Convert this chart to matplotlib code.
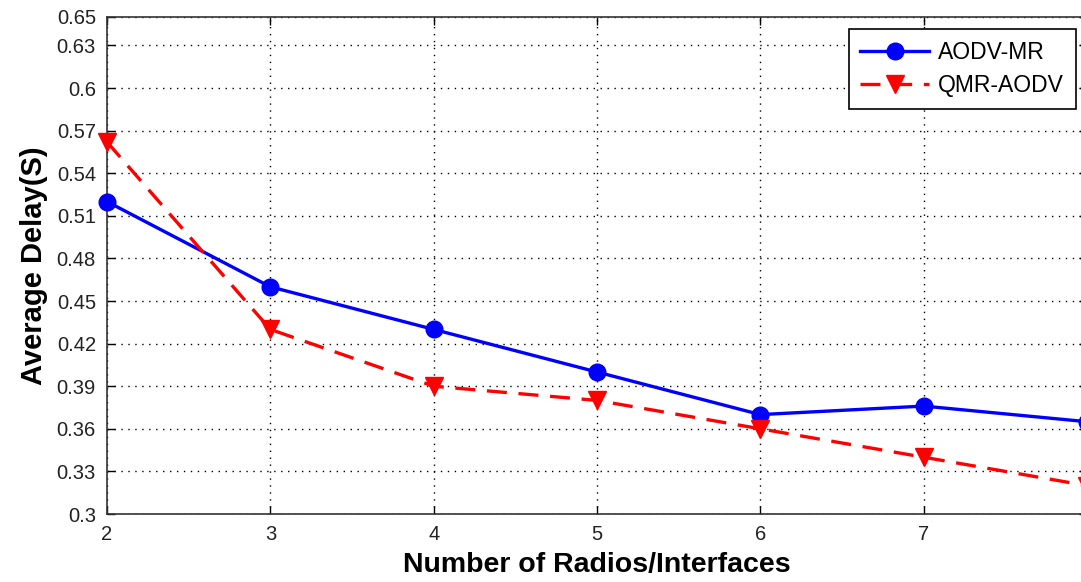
import matplotlib
matplotlib.use("Agg")
import matplotlib.pyplot as plt

radios = [2, 3, 4, 5, 6, 7, 8]
aodv_mr = [0.520, 0.460, 0.430, 0.400, 0.370, 0.376, 0.365]
qmr_aodv = [0.562, 0.430, 0.390, 0.380, 0.360, 0.340, 0.320]
yticks = [0.3, 0.33, 0.36, 0.39, 0.42, 0.45, 0.48, 0.51, 0.54, 0.57, 0.6, 0.63, 0.65]
ytick_labels = ["0.3", "0.33", "0.36", "0.39", "0.42", "0.45", "0.48", "0.51", "0.54", "0.57", "0.6", "0.63", "0.65"]
xticks = [2, 3, 4, 5, 6, 7, 8]
xtick_labels = ["2", "3", "4", "5", "6", "7", ""]

plt.rcParams['font.family'] = ['Liberation Sans', 'DejaVu Sans']

fig = plt.figure(figsize=(10.81, 5.82), dpi=100)
ax = fig.add_axes([107/1081, (582-514)/582, (1087-107)/1081, (514-17)/582])

ax.plot(radios, aodv_mr, '-o', color='#0000ff', lw=2.4, markersize=12,
        label='AODV-MR', clip_on=False, zorder=5)
ax.plot(radios, qmr_aodv, '--v', color='#ff0000', lw=2.4, markersize=13,
        dashes=(6, 3.5), label='QMR-AODV', clip_on=False, zorder=5)

ax.set_xlim(2, 8)
ax.set_ylim(0.3, 0.65)
ax.set_xticks(xticks)
ax.set_xticklabels(xtick_labels)
ax.set_yticks(yticks)
ax.set_yticklabels(ytick_labels)
ax.tick_params(direction='in', length=6, width=1, labelsize=14.5, color='black',
               labelcolor='#222222', top=True, right=True, pad=8)
ax.grid(True, linestyle=(0, (1, 4)), color='black', linewidth=1)
for s in ax.spines.values():
    s.set_linewidth(1.2)
    s.set_color('#333333')

ax.set_xlabel('Number of Radios/Interfaces', fontsize=20.5, fontweight='bold', labelpad=6)
ax.set_ylabel('Average Delay(S)', fontsize=21, fontweight='bold', labelpad=6)

leg = ax.legend(loc='upper right', fontsize=16.5, frameon=True, fancybox=False,
                edgecolor='black', framealpha=1, borderpad=0.5, handlelength=3.0,
                handletextpad=0.4, labelspacing=0.45,
                bbox_to_anchor=(1.0, 0.998))
leg.get_frame().set_linewidth(1.2)

fig.savefig('out.png', dpi=100)
